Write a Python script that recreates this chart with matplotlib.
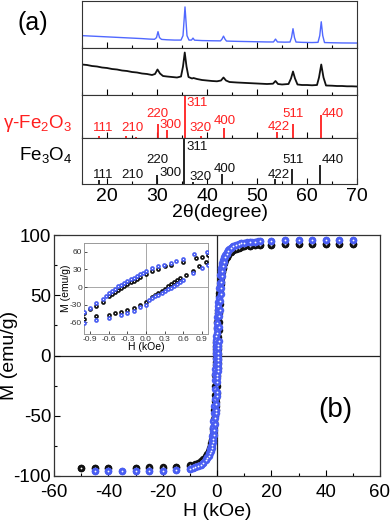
import numpy as np
import matplotlib
matplotlib.use("Agg")
import matplotlib.pyplot as plt
from matplotlib.ticker import MultipleLocator

plt.rcParams['font.family'] = ['Liberation Sans', 'DejaVu Sans']
plt.rcParams['mathtext.fontset'] = 'custom'
plt.rcParams['mathtext.rm'] = 'Liberation Sans'
plt.rcParams['axes.unicode_minus'] = False

# ---- XRD patterns (2theta, intensity in arbitrary units) ----
tt_blue = [15, 17, 19, 21, 23, 25, 27, 28.5, 29.5, 29.9, 30.2, 30.5, 30.9, 32, 33.5, 34.8, 35.2, 35.45, 35.6, 35.75,
           36.0, 36.4, 36.9, 37.2, 37.5, 39, 41, 42.7, 43.0, 43.3, 43.6, 43.9, 46, 48, 50, 52, 53.3, 53.7, 54.1,
           55.5, 56.6, 56.9, 57.2, 57.5, 57.8, 59, 61, 62.2, 62.55, 62.85, 63.15, 63.5, 65, 67, 70]
I_blue = [12, 11.5, 11, 10.5, 10, 9.5, 9, 8.5, 8.3, 10, 16, 10, 8.2, 7.8, 7.5, 7.5, 12, 30, 41, 30,
          12, 7.5, 7.5, 9.5, 7.4, 7, 6.8, 6.7, 8.5, 11.5, 8.5, 6.5, 6.2, 6, 5.8, 5.6, 5.6, 8.5, 5.6,
          5.4, 5.5, 10, 19, 10, 5.5, 5.2, 5, 5.2, 12, 26, 12, 5, 4.8, 4.6, 4.5]

tt_black = [15, 16, 17, 18, 19, 20, 21, 22, 23, 24, 25, 26, 27, 28, 29, 29.6, 30.1, 30.6, 31.2, 32, 33, 34,
            34.8, 35.2, 35.55, 35.9, 36.3, 37, 37.3, 38, 39, 40, 41, 42, 42.8, 43.3, 43.8, 44.5, 46, 48, 50,
            52, 53.2, 53.7, 54.2, 55, 56.3, 56.8, 57.2, 57.6, 58.1, 59, 60, 61, 62, 62.4, 62.85, 63.3, 63.8,
            65, 66, 67, 68, 69, 70]
I_black = [30, 29.5, 28.5, 28, 27, 26.5, 25.5, 25, 24, 23.5, 22.5, 22, 21, 20.5, 19.5, 20.5, 25, 21, 18.5, 18, 17.5, 17,
           18, 28, 42, 28, 17.5, 16, 16.5, 15.5, 14.5, 14, 13.5, 13.2, 14, 17, 14, 12.5, 12, 11.5, 11,
           10.5, 10.8, 13.5, 10.5, 10, 10.5, 16, 23, 16, 10, 9.5, 9.5, 9.2, 9.5, 17, 30, 17, 9,
           8.8, 8.5, 8.5, 8.2, 8.2, 8]

# ---- reference lines ----
gam_pos = [18.4, 23.8, 25.8, 30.2, 32.0, 35.5, 38.8, 43.4, 54.0, 57.1, 62.8]
gam_h = [4, 4, 3, 33, 18, 100, 4, 24, 13, 33, 52]
gam_lab = ['111', '210', '300', '220', '311', '320', '400', '422', '511', '440']
gam_lab_x = [19.2, 25.1, 32.8, 30.1, 38.0, 38.7, 43.6, 54.3, 57.3, 65.2]
gam_lab_y = [24, 24, 30, 56, 80, 22, 39, 26, 56, 56]

mag_pos = [18.3, 30.0, 35.4, 37.2, 43.0, 53.5, 57.0, 62.6]
mag_h = [10, 20, 100, 5, 22, 12, 32, 42]
mag_lab = ['111', '210', '300', '220', '311', '320', '400', '422', '511', '440']
mag_lab_x = [19.2, 25.1, 32.8, 30.0, 38.0, 38.8, 43.6, 54.3, 57.3, 65.2]
mag_lab_y = [20, 20, 25, 53, 80, 15, 34, 20, 53, 53]

# ---- hysteresis loops (H in kOe, M in emu/g) ----
Hb_up = [50, 45, 40, 35, 30, 25, 20, 16, 15, 14, 13, 12, 11, 10, 9, 8, 7, 6, 5.5, 5, 4.5, 4, 3.6, 3.2, 2.9, 2.6,
         2.3, 2.0, 1.8, 1.6, 1.4, 1.2, 0.98, 0.77, 0.6, 0.48, 0.4, 0.29, 0.2, 0.1, 0.0, -0.05, -0.1, -0.15,
         -0.2, -0.25, -0.3, -0.35, -0.4, -0.45, -0.5, -0.55, -0.6, -0.65, -0.7, -0.8, -0.9, -1.0, -1.15, -1.3,
         -1.45, -1.6, -1.8, -2.0, -2.3, -2.6, -3.0, -3.5, -4, -5, -6, -7, -8, -9, -10, -15, -20, -25, -30,
         -35, -40, -45]
Mb_up = [95.5, 95.5, 95.5, 95.5, 95.5, 95.5, 95.3, 95.0, 94.8, 94.6, 94.4, 94.2, 93.9, 93.6, 93.2, 92.7, 92.0,
         91.0, 90.3, 89.5, 88.5, 87.3, 86, 84.5, 83, 81.5, 79.5, 77, 75, 72.5, 70, 66.5, 60, 56, 48, 44, 41,
         38, 35, 32, 27, 24, 22, 19, 16, 13, 10, 7, 4, 1, -3, -7, -11, -15, -20, -28, -36, -42, -48, -54,
         -59, -63, -67, -71, -75, -78, -81, -84, -86, -88.8, -90.5, -91.8, -92.7, -93.3, -93.8, -95, -95.5,
         -95.7, -95.8, -95.8, -95.8, -95.8]
Hb_dn = [-45, -40, -35, -30, -25, -20, -15, -10, -9, -8, -7, -6, -5, -4, -3.5, -3, -2.6, -2.3, -2.0, -1.8,
         -1.6, -1.4, -1.2, -1.0, -0.8, -0.6, -0.4, -0.3, -0.2, -0.1, 0.0, 0.05, 0.1, 0.15, 0.2, 0.25, 0.3,
         0.35, 0.4, 0.45, 0.5, 0.55, 0.6, 0.75, 0.9, 1.0, 1.15, 1.3, 1.45, 1.6, 1.8, 2.0, 2.3, 2.6, 3.0, 3.5,
         4, 5, 6, 7, 8, 9, 10, 12, 14, 16, 20, 25, 30, 35, 40, 45, 50]
Mb_dn = [-95.8, -95.8, -95.8, -95.8, -95.7, -95.5, -95, -93.8, -93.3, -92.7, -91.8, -90.5, -89, -86.5, -85,
         -83, -81, -79, -76.5, -74.5, -72, -69.5, -66, -62, -57, -52, -48, -45, -40, -34, -30, -22, -19,
         -16, -13, -10, -7, -4, -1, 2, 6, 9, 12, 24, 33, 38, 45, 51, 56, 61, 66, 70, 74.5, 78, 81.5, 84.5,
         86.5, 89, 91, 92, 92.7, 93.2, 93.6, 94.2, 94.6, 95, 95.3, 95.5, 95.5, 95.5, 95.5, 95.5, 95.5]

Hk_up = [50, 45, 40, 35, 30, 25, 20, 16, 14, 12, 10, 9, 8, 7, 6, 5, 4.5, 4, 3.5, 3, 2.6, 2.2, 1.9, 1.6, 1.3,
         1.0, 0.9, 0.8, 0.6, 0.4, 0.3, 0.2, 0.1, 0.0, -0.1, -0.15, -0.2, -0.25, -0.3, -0.35, -0.4, -0.45,
         -0.5, -0.55, -0.6, -0.7, -0.8, -0.9, -1.0, -1.2, -1.4, -1.6, -1.9, -2.2, -2.6, -3, -3.5, -4, -5,
         -6, -7, -8, -10, -15, -20, -25, -30, -40, -45, -50]
Mk_up = [92.3, 92.3, 92.3, 92.3, 92.3, 92.2, 92, 91.7, 91.4, 91, 90.5, 90, 89.4, 88.6, 87.5, 85.8, 84.7, 83.3,
         81.5, 79, 76.5, 73, 70, 66, 61, 55, 52, 49, 43, 38, 35, 31, 28, 23, 17, 14, 11, 8, 5, 2, -2, -5,
         -8, -12, -16, -25, -33, -38, -45, -53, -60, -65, -70, -74, -78, -81, -84, -86, -88.5, -89.8,
         -90.6, -91.2, -92, -92.8, -93, -93, -93, -93, -93, -93]
Hk_dn = [-50, -45, -40, -30, -25, -20, -15, -10, -8, -7, -6, -5, -4, -3.5, -3, -2.6, -2.2, -1.9, -1.6, -1.3,
         -1.0, -0.8, -0.6, -0.5, -0.4, -0.3, -0.2, -0.1, 0.0, 0.1, 0.15, 0.2, 0.25, 0.3, 0.35, 0.4, 0.45,
         0.5, 0.55, 0.65, 0.75, 0.85, 0.97, 1.2, 1.4, 1.6, 1.9, 2.2, 2.6, 3, 3.5, 4, 5, 6, 7, 8, 10, 12,
         14, 16, 20, 25, 30, 35, 40, 45, 50]
Mk_dn = [-93, -93, -93, -93, -92.8, -92.5, -92.5, -91, -89.7, -88.8, -87.6, -86, -83.5, -81.5, -79, -76.5,
         -73, -70, -66, -61, -55, -50, -47, -45, -42, -39, -35, -31, -25, -17, -13, -10, -6, -3, 1, 5, 8,
         12, 15, 21, 28, 35, 43, 53, 59, 64, 69, 73, 77, 79.5, 82, 84, 86, 87.5, 88.6, 89.4, 90.5, 91,
         91.4, 91.7, 92, 92.2, 92.3, 92.3, 92.3, 92.3, 92.3]

BLUE = '#4a5ef2'
BLUE_LINE = '#5068ff'
RED = '#ff1f1f'
W, H = 392, 527

fig = plt.figure(figsize=(W / 100, H / 100), dpi=100)


def fax(x0, y0, x1, y1):
    # pixel box -> figure axes
    return fig.add_axes([x0 / W, 1 - y1 / H, (x1 - x0) / W, (y1 - y0) / H])


xrd_edges = [1, 47.5, 94.5, 138, 184.3]
xrd = [fax(82, xrd_edges[i], 357, xrd_edges[i + 1]) for i in range(4)]
for i, ax in enumerate(xrd):
    ax.set_xlim(15, 70)
    ax.set_yticks([])
    ax.xaxis.set_major_locator(MultipleLocator(10))
    ax.xaxis.set_minor_locator(MultipleLocator(5))
    ax.tick_params(axis='x', which='both', direction='in', top=False, labelsize=14, pad=3)
    ax.tick_params(axis='x', which='major', length=4, width=0.8)
    ax.tick_params(axis='x', which='minor', length=2.5, width=0.8)
    for s in ax.spines.values():
        s.set_linewidth(0.8)
        s.set_color('#333333')
    if i < 3:
        ax.tick_params(axis='x', labelbottom=False)

xrd[0].plot(tt_blue, I_blue, color=BLUE_LINE, lw=1.0)
xrd[0].set_ylim(0, 47)
xrd[1].plot(tt_black, I_black, color='#111111', lw=1.3)
xrd[1].set_ylim(0, 47)

xrd[2].vlines(gam_pos, 0, gam_h, color=RED, lw=1.3)
xrd[2].set_ylim(0, 100)
for t, x, y in zip(gam_lab, gam_lab_x, gam_lab_y):
    xrd[2].text(x, y, t, color=RED, fontsize=9.5, ha='center', va='center')

xrd[3].vlines(mag_pos, 0, mag_h, color='#111111', lw=1.3)
xrd[3].set_ylim(0, 100)
for t, x, y in zip(mag_lab, mag_lab_x, mag_lab_y):
    xrd[3].text(x, y, t, color='#111111', fontsize=9.5, ha='center', va='center')
xrd[3].set_xlabel('2θ(degree)', fontsize=14)
xrd[3].xaxis.set_label_coords(0.5, -0.43)

fig.text(33 / W, 1 - 23 / H, '(a)', fontsize=18, ha='center', va='center')
fig.text(3 / W, 1 - 123 / H, r'γ-Fe$\mathregular{_2}$O$\mathregular{_3}$', fontsize=13.5, color=RED,
         ha='left', va='center')
fig.text(19 / W, 1 - 155 / H, r'Fe$\mathregular{_3}$O$\mathregular{_4}$', fontsize=13.5, ha='left', va='center')

# ---- hysteresis ----
ax = fax(54, 235, 380, 476)
ax.set_xlim(-60, 60)
ax.set_ylim(-100, 100)
ax.axhline(0, color='#222222', lw=0.9, zorder=1)
ax.axvline(0, color='#222222', lw=0.9, zorder=1)


def balls(a, hh, mm, color, ms, hs):
    a.plot(hh, mm, 'o', color=color, ms=ms, mew=0, zorder=3)
    a.plot(hh, mm, 'o', color='white', ms=hs, mew=0, zorder=3)


balls(ax, Hk_up, Mk_up, '#111111', 5.4, 1.3)
balls(ax, Hk_dn, Mk_dn, '#111111', 5.4, 1.3)
balls(ax, Hb_up, Mb_up, BLUE, 5.4, 1.3)
balls(ax, Hb_dn, Mb_dn, BLUE, 5.4, 1.3)

ax.xaxis.set_major_locator(MultipleLocator(20))
ax.xaxis.set_minor_locator(MultipleLocator(10))
ax.yaxis.set_major_locator(MultipleLocator(50))
ax.yaxis.set_minor_locator(MultipleLocator(25))
ax.tick_params(which='both', direction='in', top=False, right=False, labelsize=13.5)
ax.tick_params(which='major', length=4, width=0.8)
ax.tick_params(which='minor', length=2.5, width=0.8)
ax.tick_params(axis='y', pad=2)
ax.tick_params(axis='x', pad=6)
for s in ax.spines.values():
    s.set_linewidth(0.9)
    s.set_color('#333333')
ax.set_xlabel('H (kOe)', fontsize=14)
ax.set_ylabel('M (emu/g)', fontsize=14)
ax.xaxis.set_label_coords(0.5, -0.113)
ax.yaxis.set_label_coords(-0.11, 0.5)
ax.text(335 / W, 1 - 410 / H, '(b)', transform=fig.transFigure, fontsize=20, ha='center', va='center')

# ---- inset ----
ins = fax(84, 243, 208, 334)
ins.set_zorder(5)
ins.set_xlim(-1.0, 1.0)
ins.set_ylim(-80, 75)
ins.axhline(0, color='#999999', lw=0.6, zorder=1)
ins.axvline(0, color='#999999', lw=0.6, zorder=1)
balls(ins, Hk_up, Mk_up, '#111111', 3.4, 0.9)
balls(ins, Hk_dn, Mk_dn, '#111111', 3.4, 0.9)
balls(ins, Hb_up, Mb_up, BLUE, 3.4, 0.9)
balls(ins, Hb_dn, Mb_dn, BLUE, 3.4, 0.9)
ins.set_xticks([-0.9, -0.6, -0.3, 0.0, 0.3, 0.6, 0.9])
ins.set_yticks([-60, -30, 0, 30, 60])
ins.tick_params(direction='in', length=2, width=0.6, labelsize=6, pad=1.5, colors='#333333')
for s in ins.spines.values():
    s.set_linewidth(0.7)
    s.set_color('#999999')
ins.set_xlabel('H (kOe)', fontsize=7.5)
ins.set_ylabel('M (emu/g)', fontsize=7.5)
ins.xaxis.set_label_coords(0.5, -0.09)
ins.yaxis.set_label_coords(-0.105, 0.5)

fig.savefig('out.png', dpi=100)
